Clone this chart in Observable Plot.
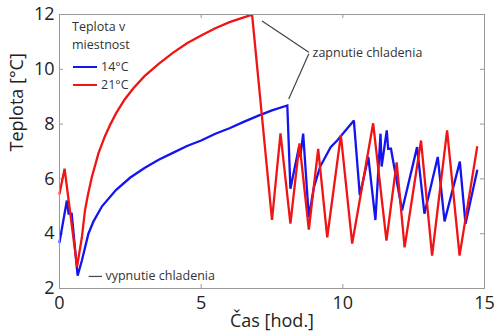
<!DOCTYPE html>
<html><head><meta charset="utf-8">
<script src="https://cdn.jsdelivr.net/npm/d3@7"></script>
<script src="https://cdn.jsdelivr.net/npm/@observablehq/plot@0.6"></script>
<style>body{margin:0;background:#fff}</style>
</head><body><div id="chart"></div>
<script>
// Time [h] and temperature [°C] for room temperature 21°C (red)
const redT = [0, 0.18, 0.62, 0.79, 0.9, 1.0, 1.14, 1.38, 1.6, 1.8, 2.0, 2.3, 2.6, 3.0, 3.5, 4.0, 4.5, 5.0, 5.5, 6.0, 6.4, 6.72, 6.8, 7.5, 7.8, 8.15, 8.47, 8.8, 9.13, 9.45, 9.93, 10.33, 11.07, 11.54, 11.9, 12.18, 12.76, 13.15, 13.68, 14.12, 14.74];
const redV = [5.46, 6.37, 2.8, 3.87, 4.85, 5.4, 6.06, 6.95, 7.55, 8.0, 8.4, 8.9, 9.3, 9.75, 10.2, 10.6, 10.95, 11.23, 11.5, 11.72, 11.86, 11.97, 11.97, 4.5, 7.66, 4.37, 7.3, 4.15, 7.1, 3.87, 7.6, 3.64, 8.03, 3.75, 6.6, 3.5, 7.4, 3.2, 7.77, 3.2, 7.16];
// room temperature 14°C (blue)
const blueT = [0, 0.26, 0.32, 0.43, 0.64, 0.79, 1.02, 1.2, 1.5, 2.0, 2.5, 3.0, 3.5, 4.0, 4.5, 5.0, 5.5, 6.0, 6.5, 7.0, 7.5, 8.04, 8.15, 8.45, 8.5, 8.6, 8.8, 8.98, 9.2, 9.57, 9.8, 10.39, 10.6, 10.9, 11.15, 11.33, 11.37, 11.55, 11.6, 11.7, 11.75, 12.09, 12.62, 12.88, 13.35, 13.59, 14.13, 14.33, 14.74];
const blueV = [3.69, 5.21, 4.73, 4.73, 2.47, 3.02, 4.0, 4.45, 5.0, 5.6, 6.05, 6.4, 6.7, 6.95, 7.2, 7.4, 7.65, 7.85, 8.08, 8.3, 8.5, 8.68, 5.64, 7.16, 6.8, 7.65, 4.6, 5.7, 6.45, 7.16, 7.4, 8.13, 5.4, 6.8, 4.5, 7.65, 6.45, 7.77, 7.1, 7.1, 6.8, 4.85, 7.16, 4.73, 6.8, 4.45, 6.63, 4.36, 6.3];

const seriesNames = ["14°C", "21°C"];
const seriesColors = ["#1414f0", "#f01414"];
const xTicks = [0, 5, 10, 15];
const yTicks = [2, 4, 6, 8, 10, 12];
const legendTitle = ["Teplota v", "miestnost"];
const xLabel = "Čas [hod.]";
const yLabel = "Teplota [°C]";
// annotations: "zapnutie chladenia" with two leader lines; "vypnutie chladenia"
const onText = {t: 8.93, v: 10.58, label: "zapnutie chladenia"};
const onLines = [{t1: 7.15, v1: 11.76, t2: 8.8, v2: 10.62}, {t1: 8.8, v1: 10.57, t2: 8.09, v2: 8.92}];
const offText = {t: 1.62, v: 2.44, label: "vypnutie chladenia"};
const offLine = [{t1: 1.03, v1: 2.44, t2: 1.5, v2: 2.44}];

const rows = [
  ...blueT.map((t, i) => ({t, v: blueV[i], s: seriesNames[0]})),
  ...redT.map((t, i) => ({t, v: redV[i], s: seriesNames[1]}))
];

const W = 495, H = 335, mL = 59, mR = 11, mT = 14, mB = 47;
const pw = W - mL - mR, ph = H - mT - mB;
const font = "Open Sans";

const chart = Plot.plot({
  width: W, height: H,
  marginLeft: mL, marginRight: mR, marginTop: mT, marginBottom: mB,
  style: {fontFamily: font, background: "#fff", overflow: "visible", color: "#222"},
  x: {domain: [0, 15]},
  y: {domain: [2, 12]},
  color: {domain: seriesNames, range: seriesColors},
  marks: [
    Plot.tickX(xTicks.slice(1, -1), {x: d => d, stroke: "#999", insetTop: ph - 4}),
    Plot.tickX(xTicks.slice(1, -1), {x: d => d, stroke: "#999", insetBottom: ph - 4}),
    Plot.tickY(yTicks.slice(1, -1), {y: d => d, stroke: "#999", insetRight: pw - 4}),
    Plot.tickY(yTicks.slice(1, -1), {y: d => d, stroke: "#999", insetLeft: pw - 4}),
    Plot.axisX({ticks: xTicks, tickSize: 0, tickPadding: 8, fontSize: 18, label: null, fill: "#222"}),
    Plot.axisY({ticks: yTicks, tickSize: 0, tickPadding: 5, fontSize: 18, label: null, fill: "#222"}),
    Plot.text([xLabel], {frameAnchor: "bottom", dy: 38, fontSize: 18, fill: "#222"}),
    Plot.text([yLabel], {frameAnchor: "left", dx: -42, rotate: -90, fontSize: 18, fill: "#222"}),
    Plot.line(rows, {x: "t", y: "v", z: "s", stroke: "s", strokeWidth: 2.3, strokeLinejoin: "miter", strokeMiterlimit: 2}),
    Plot.link(onLines, {x1: "t1", y1: "v1", x2: "t2", y2: "v2", stroke: "#444", strokeWidth: 1.2}),
    Plot.link(offLine, {x1: "t1", y1: "v1", x2: "t2", y2: "v2", stroke: "#444", strokeWidth: 1.2}),
    Plot.text([onText], {x: "t", y: "v", text: "label", textAnchor: "start", fontSize: 12.5, fill: "#333"}),
    Plot.text([offText], {x: "t", y: "v", text: "label", textAnchor: "start", fontSize: 12.5, fill: "#333"}),
    Plot.frame({stroke: "#999"})
  ]
});

// Legend inside the frame (top-left)
const svg = d3.select(chart);
const lg = svg.append("g").attr("transform", `translate(${mL + 13},${mT})`)
  .attr("font-family", font).attr("font-size", 12.5).attr("fill", "#333").attr("text-anchor", "start");
legendTitle.forEach((s, i) => lg.append("text").attr("x", 0).attr("y", 13 + i * 18).attr("dy", "0.35em").attr("text-anchor", "start").text(s));
seriesNames.forEach((s, i) => {
  const y = 53 + i * 18;
  lg.append("line").attr("x1", 1).attr("x2", 25).attr("y1", y).attr("y2", y)
    .attr("stroke", seriesColors[i]).attr("stroke-width", 2);
  lg.append("text").attr("x", 29).attr("y", y).attr("dy", "0.35em").attr("text-anchor", "start").text(s);
});

document.getElementById("chart").append(chart);
</script>
</body></html>
